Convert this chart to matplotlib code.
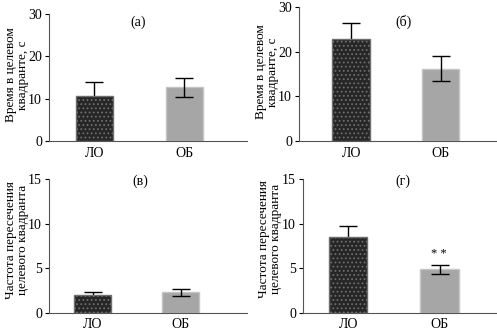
import matplotlib.pyplot as plt

plt.rcParams['font.family'] = ['Liberation Serif', 'DejaVu Serif']
plt.rcParams['hatch.color'] = '#4a4a4a'
plt.rcParams['hatch.linewidth'] = 0.8

# данные
groups = ['ЛО', 'ОБ']
time_a = [10.7, 12.7]
err_a = [3.2, 2.2]
time_b = [22.8, 16.2]
err_b = [3.7, 2.8]
freq_c = [1.95, 2.3]
err_c = [0.35, 0.4]
freq_d = [8.5, 4.85]
err_d = [1.2, 0.55]
panel_labels = ['(а)', '(б)', '(в)', '(г)']

ylabel_time = 'Время в целевом\nквадранте, с'
ylabel_freq = 'Частота пересечения\nцелевого квадранта'

fig = plt.figure(figsize=(4.97, 3.32), dpi=100)

# [left, bottom, width, height], xlim, ylim, yticks, данные, подпись, позиция подписи
panels = [
    ([0.0986, 0.575, 0.398, 0.383], (-0.506, 1.694), 30, [0, 10, 20, 30], time_a, err_a, ylabel_time, (-0.163, 0.52)),
    ([0.6016, 0.575, 0.396, 0.404], (-0.583, 1.617), 30, [0, 10, 20, 30], time_b, err_b, ylabel_time, (-0.165, 0.515)),
    ([0.0986, 0.058, 0.398, 0.402], (-0.5, 1.75), 15, [0, 5, 10, 15], freq_c, err_c, ylabel_freq, (-0.163, 0.545)),
    ([0.6097, 0.058, 0.388, 0.403], (-0.495, 1.615), 15, [0, 5, 10, 15], freq_d, err_d, ylabel_freq, (-0.172, 0.55)),
]
label_pos = [(138, 22), (403, 22), (140, 181), (403, 181)]

colors = ['#262626', '#a6a6a6']
edges = ['#6e6e6e', '#c4c4c4']

for i, (rect, xl, ymax, yt, vals, errs, ylab, lc) in enumerate(panels):
    ax = fig.add_axes(rect)
    x = [0, 1]
    bars = ax.bar(x, vals, width=0.42, color=colors, edgecolor=edges, linewidth=1.0, zorder=2)
    bars[0].set_hatch('....')
    bars[0].set_zorder(4)  # тёмный столбец закрывает нижнюю часть погрешности
    ax.errorbar(x, vals, yerr=errs, fmt='none', ecolor='black', elinewidth=1.0,
                capsize=6.5, capthick=1.0, zorder=3)
    ax.set_xlim(*xl)
    ax.set_ylim(0, ymax)
    ax.set_yticks(yt)
    ax.set_xticks(x)
    ax.set_xticklabels(groups, fontsize=10)
    ax.tick_params(axis='y', direction='out', length=3, width=0.8, labelsize=10, pad=2)
    ax.tick_params(axis='x', direction='in', length=4, width=0.8, color='#888888', pad=4)
    ax.spines['top'].set_visible(False)
    ax.spines['right'].set_visible(False)
    ax.spines['left'].set_color('#555555')
    ax.spines['bottom'].set_color('#555555')
    ax.set_ylabel(ylab, fontsize=9.5, linespacing=1.0, va='center')
    ax.yaxis.set_label_coords(*lc)
    fig.text(label_pos[i][0] / 497, 1 - label_pos[i][1] / 332, panel_labels[i],
             fontsize=10, ha='center', va='center')

# значимость
fig.text(439 / 497, 1 - 254 / 332, '* *', fontsize=9, ha='center', va='center')

fig.savefig('out.png', dpi=100)
